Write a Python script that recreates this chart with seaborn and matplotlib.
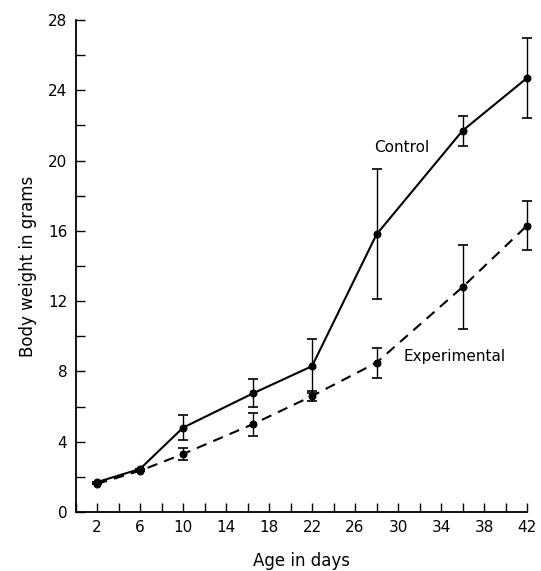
"""Body weight vs age, control and experimental groups."""
import matplotlib
matplotlib.use("Agg")
import matplotlib.pyplot as plt
from matplotlib.ticker import MultipleLocator, FixedLocator
import pandas as pd
import seaborn as sns

sns.set_theme(style="ticks")
plt.rcParams["font.family"] = ["DejaVu Sans"]
plt.rcParams["text.color"] = "black"
plt.rcParams["axes.labelcolor"] = "black"

days = [2, 6, 10, 16.5, 22, 28, 36, 42]
control_mean = [1.7, 2.45, 4.8, 6.75, 8.3, 15.8, 21.7, 24.7]
control_err = [0.0, 0.0, 0.7, 0.8, 1.55, 3.7, 0.85, 2.25]
exper_mean = [1.6, 2.35, 3.3, 5.0, 6.6, 8.5, 12.8, 16.3]
exper_err = [0.0, 0.0, 0.35, 0.65, 0.3, 0.85, 2.4, 1.4]

df = pd.DataFrame({"day": days, "control": control_mean, "experimental": exper_mean})

fig = plt.figure(figsize=(5.41, 5.71), dpi=100)
ax = fig.add_axes([0.1396, 0.1033, 0.8346, 0.8617])

sns.lineplot(data=df, x="day", y="control", ax=ax, color="black", lw=1.5,
             marker="o", markersize=5, markeredgecolor="black", clip_on=False)
sns.lineplot(data=df, x="day", y="experimental", ax=ax, color="black", lw=1.5,
             marker="o", markersize=5, markeredgecolor="black", clip_on=False)
ax.lines[-1].set_dashes([5, 3.5])

for mean, err in ((control_mean, control_err), (exper_mean, exper_err)):
    eb = ax.errorbar(days, mean, yerr=err, fmt="none", ecolor="black",
                     elinewidth=1.0, capsize=3.5, capthick=1.2)
    for art in eb.lines[1] + eb.lines[2]:
        art.set_clip_on(False)

ax.text(27.8, 20.75, "Control", fontsize=11, va="center", ha="left")
ax.text(30.5, 8.85, "Experimental", fontsize=11, va="center", ha="left")

ax.set_xlim(0, 42)
ax.set_ylim(0, 28)
ax.xaxis.set_major_locator(FixedLocator(list(range(2, 43, 4))))
ax.xaxis.set_minor_locator(MultipleLocator(2))
ax.yaxis.set_major_locator(MultipleLocator(4))
ax.yaxis.set_minor_locator(MultipleLocator(2))
ax.tick_params(which="both", direction="in", length=6.5, width=1.0, colors="black",
               labelsize=11, pad=6)

sns.despine(ax=ax)
for s in ("left", "bottom"):
    ax.spines[s].set_linewidth(1.3)
    ax.spines[s].set_color("black")

ax.set_xlabel("Age in days", fontsize=12, labelpad=12)
ax.set_ylabel("Body weight in grams", fontsize=12, labelpad=8)

fig.savefig("out.png", dpi=100)
plt.close(fig)
